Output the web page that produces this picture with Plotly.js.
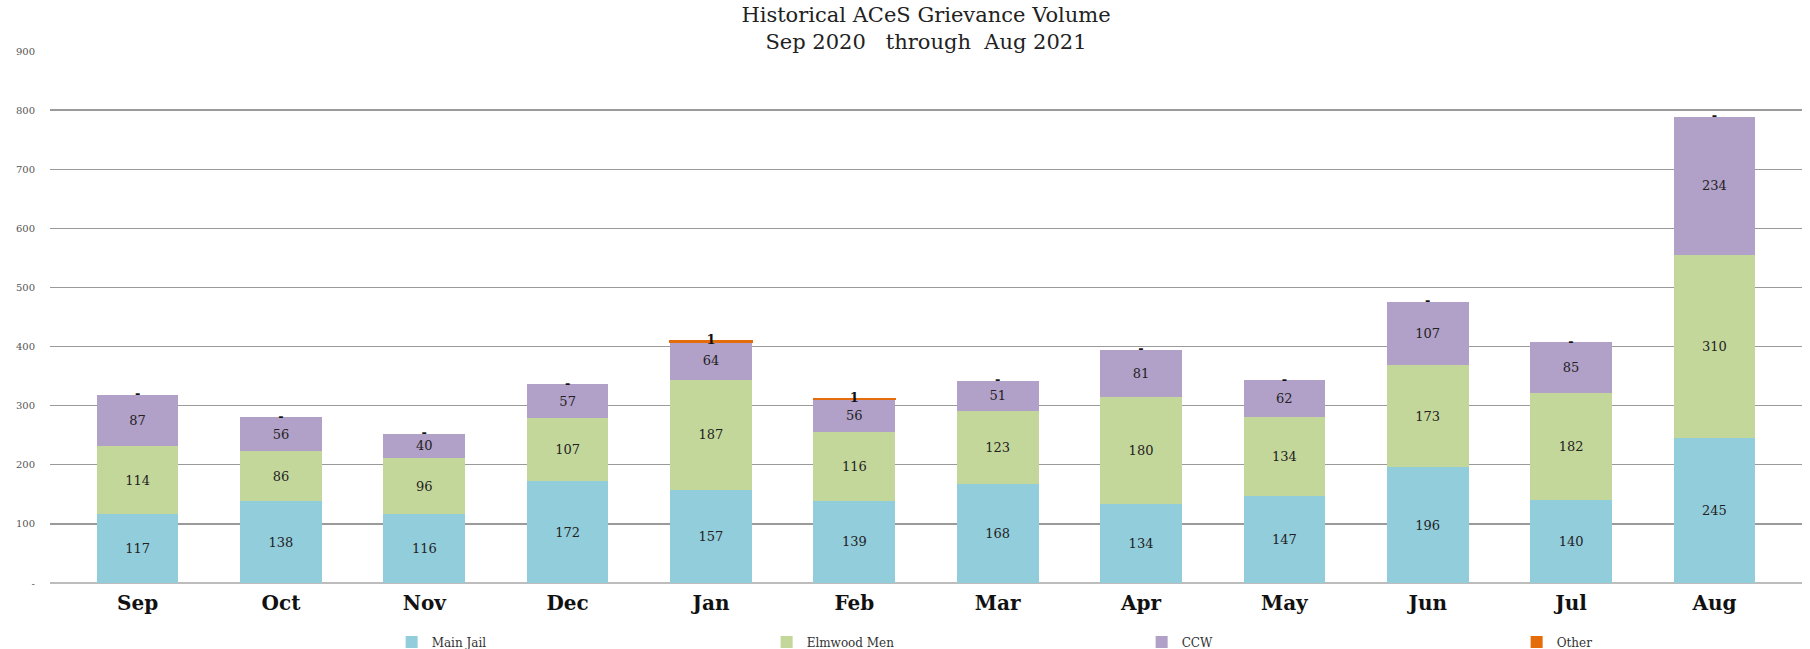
<!DOCTYPE html>
<html>
<head>
<meta charset="utf-8">
<script src="https://cdn.plot.ly/plotly-3.0.1.min.js"></script>
<style>html,body{margin:0;padding:0;background:#fff;}#chart{width:1810px;height:649px;}</style>
</head>
<body>
<div id="chart"></div>
<script>
const months = ["Sep","Oct","Nov","Dec","Jan","Feb","Mar","Apr","May","Jun","Jul","Aug"];
const mainJail = [117,138,116,172,157,139,168,134,147,196,140,245];
const elmwoodMen = [114,86,96,107,187,116,123,180,134,173,182,310];
const ccw = [87,56,40,57,64,56,51,81,62,107,85,234];
const other = [0,0,0,0,1,1,0,0,0,0,0,0];
const yTickVals = [0,100,200,300,400,500,600,700,800,900];
const yTickText = ["-","100","200","300","400","500","600","700","800","900"];

const serif = "DejaVu Serif, Liberation Serif, serif";
const labelFont = {family: serif, size: 13, color: "#222"};

function barTrace(name, vals, color) {
  return {
    type: "bar", name: name, x: months, y: vals,
    marker: {color: color, line: {width: 0}},
    text: vals.map(String), textposition: "inside", insidetextanchor: "middle",
    textangle: 0, constraintext: "none", textfont: labelFont,
    hoverinfo: "skip"
  };
}

const totals = months.map((m, i) => mainJail[i] + elmwoodMen[i] + ccw[i] + other[i]);

const data = [
  barTrace("Main Jail", mainJail, "#92CDDC"),
  barTrace("Elmwood Men", elmwoodMen, "#C4D79B"),
  barTrace("CCW", ccw, "#B1A0C7"),
  {
    type: "bar", name: "Other", x: months, y: other,
    marker: {color: "#E46C0A", line: {color: "#E46C0A", width: other.map(v => v > 0 ? 1.5 : 0)}},
    hoverinfo: "skip"
  },
  {
    type: "scatter", mode: "text", x: months, y: totals,
    text: other.map(v => v > 0 ? String(v) : "-"),
    textposition: "middle center",
    textfont: {family: serif, size: 13, color: "#111", weight: "bold"},
    showlegend: false, hoverinfo: "skip"
  }
];

const layout = {
  width: 1810, height: 649,
  margin: {l: 50, r: 8, t: 51, b: 66, autoexpand: false},
  paper_bgcolor: "#fff", plot_bgcolor: "#fff",
  barmode: "stack", bargap: 0.43,
  title: {
    text: "Historical ACeS Grievance Volume<br>Sep 2020   through  Aug 2021",
    font: {family: serif, size: 21, color: "#222"},
    x: 0.5, xanchor: "center", xref: "paper",
    yref: "container", y: 1 - 22 / 649, yanchor: "middle"
  },
  xaxis: {
    type: "category", showgrid: false, showline: false, ticks: "",
    tickfont: {family: serif, size: 20, color: "#111", weight: "bold"},
    ticklabelstandoff: 6, automargin: false
  },
  yaxis: {
    range: [0, 900], tickmode: "array", tickvals: yTickVals, ticktext: yTickText,
    showgrid: true, gridcolor: "#9a9a9a", gridwidth: 1.3,
    zeroline: true, zerolinecolor: "#bdbdbd", zerolinewidth: 2,
    showline: false, ticks: "", automargin: false,
    tickfont: {family: serif, size: 10, color: "#555"},
    ticklabelstandoff: 14
  },
  legend: {
    orientation: "h", x: 0.195, xanchor: "left",
    yref: "container", y: 1 - 642 / 649, yanchor: "middle",
    entrywidth: 330, entrywidthmode: "pixels",
    font: {family: serif, size: 12, color: "#333"},
    traceorder: "normal"
  },
  showlegend: true
};

Plotly.newPlot("chart", data, layout, {displayModeBar: false, staticPlot: true});
</script>
</body>
</html>
